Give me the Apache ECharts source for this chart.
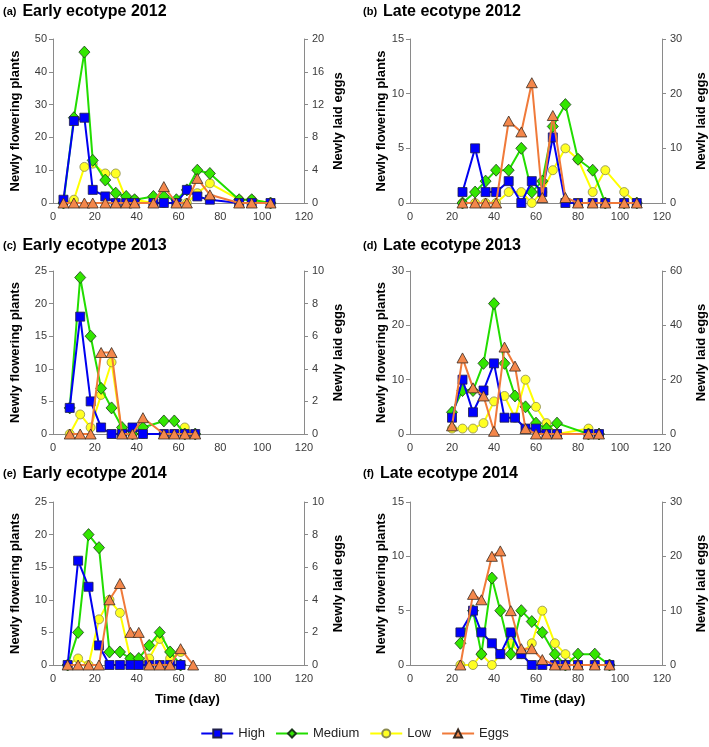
<!DOCTYPE html>
<html>
<head>
<meta charset="utf-8">
<script src="https://cdn.jsdelivr.net/npm/echarts@6/dist/echarts.min.js"></script>
<style>html,body{margin:0;padding:0;background:#fff;}#c{width:709px;height:747px;}</style>
</head>
<body>
<div id="c"></div>
<script>
// ---- data ----
const seriesNames = ['High', 'Medium', 'Low', 'Eggs'];
const xTicks = [0, 20, 40, 60, 80, 100, 120];

const daysA = [5, 10, 15, 19, 25, 30, 35, 39, 48, 53, 59, 64, 69, 75, 89, 95, 104];
const highA = [1, 25, 26, 4, 2, 0, 0, 0, 0, 0, 0, 4, 2, 1, 0, 0, 0];
const medA  = [0, 26, 46, 13, 7, 3, 2, 1, 2, 2, 1, 4, 10, 9, 1, 1, 0];
const lowA  = [0, 1, 11, 12, 9, 9, 1, 1, 0, 0, 0, 0, 3, 6, 1, 1, 0];
const eggsA = [0, 0, 0, 0, 0, 0, 0, 0, 0, 2, 0, 0, 3, 1, 0, 0, 0];

const daysB = [25, 31, 36, 41, 47, 53, 58, 63, 68, 74, 80, 87, 93, 102, 108];
const highB = [1, 5, 1, 1, 2, 0, 2, 1, 6, 0, 0, 0, 0, 0, 0];
const medB  = [0, 1, 2, 3, 3, 5, 1, 2, 7, 9, 4, 3, 0, 0, 0];
const lowB  = [0, 0, 0, 0, 1, 1, 0, 1, 3, 5, 4, 1, 3, 1, 0];
const eggsB = [0, 0, 0, 0, 15, 13, 22, 1, 16, 1, 0, 0, 0, 0, 0];

const daysC = [8, 13, 18, 23, 28, 33, 38, 43, 53, 58, 63, 68];
const highC = [4, 18, 5, 1, 0, 0, 1, 0, 0, 0, 0, 0];
const medC  = [4, 24, 15, 7, 4, 1, 0, 1, 2, 2, 0, 0];
const lowC  = [0, 3, 1, 6, 11, 0, 0, 0, 0, 0, 1, 0];
const eggsC = [0, 0, 0, 5, 5, 0, 0, 1, 0, 0, 0, 0];

const daysD = [20, 25, 30, 35, 40, 45, 50, 55, 60, 65, 70, 85, 90];
const highD = [3, 10, 4, 8, 13, 3, 3, 1, 1, 0, 0, 0, 0];
const medD  = [4, 8, 8, 13, 24, 13, 7, 5, 2, 1, 2, 0, 0];
const lowD  = [1, 1, 1, 2, 6, 7, 3, 10, 5, 2, 0, 1, 0];
const eggsD = [3, 28, 17, 14, 1, 32, 25, 2, 0, 0, 0, 0, 0];

const daysE = [7, 12, 17, 22, 27, 32, 37, 41, 46, 51, 56, 61, 67];
const highE = [0, 16, 12, 3, 0, 0, 0, 0, 0, 0, 0, 0, null];
const medE  = [0, 5, 20, 18, 2, 2, 1, 1, 3, 5, 2, 0, null];
const lowE  = [0, 1, 0, 7, 10, 8, 1, 0, 1, 4, 1, 2, null];
const eggsE = [0, 0, 0, 0, 4, 5, 2, 2, 0, 0, 0, 1, 0];

const daysF = [24, 30, 34, 39, 43, 48, 53, 58, 63, 69, 74, 80, 88, 95];
const highF = [3, 5, 3, 2, 1, 3, 1, 0, 0, 0, 0, 0, 0, 0];
const medF  = [2, 5, 1, 8, 5, 1, 5, 4, 3, 1, 0, 1, 1, 0];
const lowF  = [0, 0, 1, 0, 1, 2, 1, 2, 5, 2, 1, 0, 0, 0];
const eggsF = [0, 13, 12, 20, 21, 10, 3, 3, 1, 0, 0, 0, 0, 0];

const titlesTag = ['(a)', '(b)', '(c)', '(d)', '(e)', '(f)'];
const titlesText = ['Early ecotype 2012', 'Late ecotype 2012', 'Early ecotype 2013',
                    'Late ecotype 2013', 'Early ecotype 2014', 'Late ecotype 2014'];
const leftMax = [50, 15, 25, 30, 25, 15];
const leftInt = [10, 5, 5, 10, 5, 5];
const rightMax = [20, 30, 10, 60, 10, 30];
const rightInt = [4, 10, 2, 20, 2, 10];

const panelData = [
  [daysA, highA, medA, lowA, eggsA],
  [daysB, highB, medB, lowB, eggsB],
  [daysC, highC, medC, lowC, eggsC],
  [daysD, highD, medD, lowD, eggsD],
  [daysE, highE, medE, lowE, eggsE],
  [daysF, highF, medF, lowF, eggsF]
];

// ---- layout & style ----
const FONT = "'Liberation Sans', Arial, sans-serif";
const grids = [
  {left: 53, top: 39, width: 251, height: 164},
  {left: 410, top: 39, width: 252, height: 164},
  {left: 53, top: 271, width: 251, height: 163},
  {left: 410, top: 271, width: 252, height: 163},
  {left: 53, top: 502, width: 251, height: 163},
  {left: 410, top: 502, width: 252, height: 163}
];
const titlePos = [
  {left: 3, top: 4}, {left: 363, top: 4},
  {left: 3, top: 238}, {left: 363, top: 238},
  {left: 3, top: 466}, {left: 363, top: 466}
];
const styles = {
  High:   {line: '#0000F0', fill: '#0000FF', border: '#20204a', symbol: 'rect', size: 9},
  Medium: {line: '#22DD00', fill: '#33E600', border: '#1a3a1a', symbol: 'diamond', size: [11, 12]},
  Low:    {line: '#FFFF00', fill: '#FFFF22', border: '#8a8a50', symbol: 'circle', size: 9},
  Eggs:   {line: '#F07A3A', fill: '#F4874B', border: '#3a2a20', symbol: 'triangle', size: [11, 10]}
};
const AXIS_GRAY = '#8a8a8a';
const LABEL_COLOR = '#3a3a3a';

const option = {
  animation: false,
  backgroundColor: '#fff',
  textStyle: {fontFamily: FONT},
  title: [],
  grid: [],
  xAxis: [],
  yAxis: [],
  series: [],
  legend: {
    data: seriesNames,
    bottom: 2,
    left: 'center',
    itemWidth: 32,
    itemHeight: 10,
    itemGap: 10,
    textStyle: {fontFamily: FONT, fontSize: 13, color: '#222'}
  }
};

grids.forEach((g, i) => {
  const isLeftCol = (i % 2 === 0);
  const isBottom = i >= 4;
  option.grid.push(Object.assign({containLabel: false}, g));
  option.title.push({
    left: titlePos[i].left, top: titlePos[i].top, padding: 0,
    text: '{p|' + titlesTag[i] + '}{t|' + titlesText[i] + '}',
    textStyle: {
      rich: {
        p: {fontFamily: FONT, fontSize: 11, color: '#000', padding: [0, 6, 0, 0]},
        t: {fontFamily: FONT, fontSize: 16, fontWeight: 'bold', color: '#000'}
      }
    }
  });
  option.xAxis.push({
    type: 'value', gridIndex: i, min: xTicks[0], max: xTicks[xTicks.length - 1],
    interval: xTicks[1] - xTicks[0],
    axisLine: {show: true, lineStyle: {color: AXIS_GRAY, width: 1}},
    axisTick: {show: false},
    splitLine: {show: false},
    axisLabel: {color: LABEL_COLOR, fontSize: 11, margin: 8, fontFamily: FONT},
    name: isBottom ? 'Time (day)' : '',
    nameLocation: 'middle',
    nameGap: 28,
    nameTextStyle: {fontFamily: FONT, fontSize: 13, fontWeight: 'bold', color: '#000',
                    padding: [0, 0, 0, isLeftCol ? 18 : 34]}
  });
  option.yAxis.push({
    type: 'value', gridIndex: i, min: 0, max: leftMax[i], interval: leftInt[i],
    position: 'left',
    axisLine: {show: true, lineStyle: {color: AXIS_GRAY, width: 1}},
    axisTick: {show: true, inside: false, length: 4, lineStyle: {color: AXIS_GRAY}},
    splitLine: {show: false},
    axisLabel: {color: LABEL_COLOR, fontSize: 11, margin: 6, fontFamily: FONT},
    name: 'Newly flowering plants',
    nameLocation: 'middle',
    nameRotate: 90,
    nameGap: isLeftCol ? 31 : 21,
    nameTextStyle: {fontFamily: FONT, fontSize: 13, fontWeight: 'bold', color: '#000'}
  });
  option.yAxis.push({
    type: 'value', gridIndex: i, min: 0, max: rightMax[i], interval: rightInt[i],
    position: 'right',
    axisLine: {show: true, lineStyle: {color: AXIS_GRAY, width: 1}},
    axisTick: {show: true, inside: false, length: 4, lineStyle: {color: AXIS_GRAY}},
    splitLine: {show: false},
    axisLabel: {color: LABEL_COLOR, fontSize: 11, margin: 8, fontFamily: FONT},
    name: 'Newly laid eggs',
    nameLocation: 'middle',
    nameRotate: 90,
    nameGap: isLeftCol ? 28 : 33,
    nameTextStyle: {fontFamily: FONT, fontSize: 13, fontWeight: 'bold', color: '#000'}
  });

  const [days, high, med, low, eggs] = panelData[i];
  const vals = {High: high, Medium: med, Low: low, Eggs: eggs};
  const zOrder = {Low: 2, Medium: 3, High: 4, Eggs: 5};
  seriesNames.forEach(name => {
    const s = styles[name];
    option.series.push({
      name: name,
      type: 'line',
      xAxisIndex: i,
      yAxisIndex: name === 'Eggs' ? 2 * i + 1 : 2 * i,
      z: zOrder[name],
      data: days.map((d, k) => [d, vals[name][k]]).filter(p => p[1] !== null),
      symbol: s.symbol,
      symbolSize: s.size,
      showAllSymbol: true,
      lineStyle: {color: s.line, width: 2},
      itemStyle: {color: s.fill, borderColor: s.border, borderWidth: 0.8},
      emphasis: {disabled: true}
    });
  });
});

const chart = echarts.init(document.getElementById('c'), null, {renderer: 'canvas'});
chart.setOption(option);
</script>
</body>
</html>
